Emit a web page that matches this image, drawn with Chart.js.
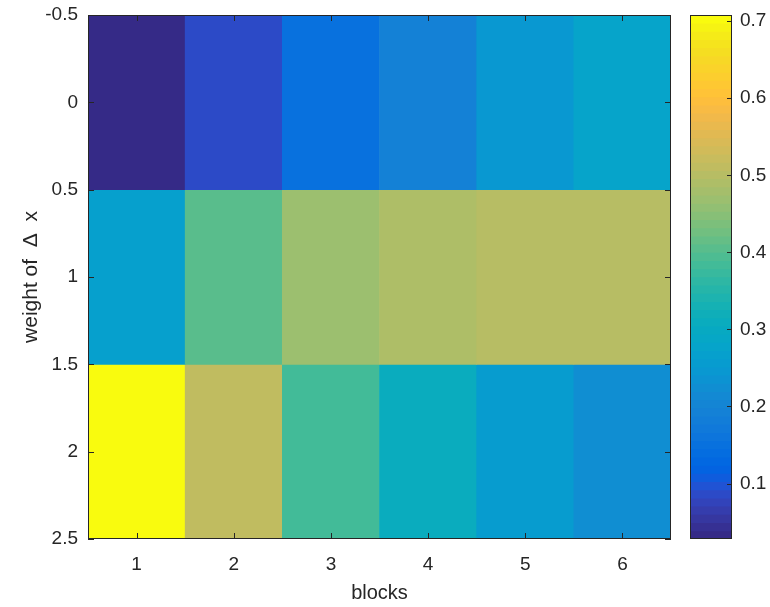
<!DOCTYPE html>
<html>
<head>
<meta charset="utf-8">
<script src="https://cdn.jsdelivr.net/npm/chart.js@4.4.0/dist/chart.umd.min.js"></script>
<style>
  html, body { margin: 0; padding: 0; background: #ffffff; }
  #wrap { position: relative; width: 770px; height: 607px; }
  #wrap canvas { position: absolute; left: 0; top: 0; }
</style>
</head>
<body>
<div id="wrap">
  <canvas id="heat" width="770" height="607"></canvas>
  <canvas id="cbar" width="770" height="607"></canvas>
</div>
<script>
// ---- data ----
const blocks = ['1', '2', '3', '4', '5', '6'];
const weights = [0, 1, 2];
const scoreW0 = [0.028, 0.087, 0.151, 0.196, 0.246, 0.278];
const scoreW1 = [0.272, 0.405, 0.468, 0.490, 0.500, 0.503];
const scoreW2 = [0.708, 0.511, 0.384, 0.310, 0.257, 0.225];
const weightTicks = [-0.5, 0, 0.5, 1, 1.5, 2, 2.5];
const colorbarTicks = [0.1, 0.2, 0.3, 0.4, 0.5, 0.6, 0.7];
const colorMin = 0.028;
const colorMax = 0.708;

// ---- parula colour map (64 entries) ----
const parula = [
  [0.2081,0.1663,0.5292],[0.2116,0.1898,0.5777],[0.2123,0.2138,0.6270],[0.2081,0.2386,0.6771],
  [0.1959,0.2645,0.7279],[0.1707,0.2919,0.7792],[0.1253,0.3242,0.8303],[0.0591,0.3598,0.8683],
  [0.0117,0.3875,0.8820],[0.0060,0.4086,0.8828],[0.0165,0.4266,0.8786],[0.0329,0.4430,0.8720],
  [0.0498,0.4586,0.8641],[0.0629,0.4737,0.8554],[0.0723,0.4887,0.8467],[0.0779,0.5040,0.8384],
  [0.0793,0.5200,0.8312],[0.0749,0.5375,0.8263],[0.0641,0.5570,0.8240],[0.0488,0.5772,0.8228],
  [0.0343,0.5966,0.8199],[0.0265,0.6137,0.8135],[0.0239,0.6287,0.8038],[0.0231,0.6418,0.7913],
  [0.0228,0.6535,0.7768],[0.0267,0.6642,0.7607],[0.0384,0.6743,0.7436],[0.0590,0.6838,0.7254],
  [0.0843,0.6928,0.7062],[0.1133,0.7015,0.6859],[0.1453,0.7098,0.6646],[0.1801,0.7177,0.6424],
  [0.2178,0.7250,0.6193],[0.2586,0.7317,0.5954],[0.3022,0.7376,0.5712],[0.3482,0.7424,0.5473],
  [0.3953,0.7459,0.5244],[0.4420,0.7481,0.5033],[0.4871,0.7491,0.4840],[0.5300,0.7491,0.4661],
  [0.5709,0.7485,0.4494],[0.6099,0.7473,0.4337],[0.6473,0.7456,0.4188],[0.6834,0.7435,0.4044],
  [0.7184,0.7411,0.3905],[0.7525,0.7384,0.3768],[0.7858,0.7356,0.3633],[0.8185,0.7327,0.3498],
  [0.8507,0.7299,0.3360],[0.8824,0.7274,0.3217],[0.9139,0.7258,0.3063],[0.9450,0.7261,0.2886],
  [0.9739,0.7314,0.2666],[0.9938,0.7455,0.2403],[0.9990,0.7653,0.2164],[0.9955,0.7861,0.1967],
  [0.9880,0.8066,0.1794],[0.9789,0.8271,0.1633],[0.9697,0.8481,0.1475],[0.9626,0.8705,0.1309],
  [0.9589,0.8949,0.1132],[0.9598,0.9218,0.0948],[0.9661,0.9514,0.0755],[0.9763,0.9831,0.0538]
];
const rgb = c => `rgb(${Math.round(c[0]*255)},${Math.round(c[1]*255)},${Math.round(c[2]*255)})`;
function colorFor(v) {
  let i = Math.floor((v - colorMin) / (colorMax - colorMin) * parula.length);
  i = Math.max(0, Math.min(parula.length - 1, i));
  return rgb(parula[i]);
}

const INK = '#262626';
const FONT = '"Liberation Sans", Arial, Helvetica, sans-serif';
const TICK_FONT = { family: FONT, size: 19 };

// ---- heat map: one floating-bar dataset per weight row ----
const rows = [scoreW0, scoreW1, scoreW2];
const heatDatasets = weights.map((w, r) => ({
  data: blocks.map(b => ({ x: b, y: [w - 0.5, w + 0.5] })),
  backgroundColor: rows[r].map(colorFor),
  borderWidth: 0,
  grouped: false,
  barPercentage: 1,
  categoryPercentage: 1
}));

// axes box with inward tick marks on all four sides
const heatFrame = {
  id: 'heatFrame',
  afterDraw(chart) {
    const { ctx, chartArea: a, scales: { x, y } } = chart;
    const len = 6;
    ctx.save();
    ctx.strokeStyle = INK;
    ctx.lineWidth = 1;
    ctx.beginPath();
    x.ticks.forEach((t, i) => {
      const px = Math.round(x.getPixelForTick(i)) + 0.5;
      ctx.moveTo(px, a.bottom); ctx.lineTo(px, a.bottom - len);
      ctx.moveTo(px, a.top); ctx.lineTo(px, a.top + len);
    });
    y.ticks.forEach(t => {
      const py = Math.round(y.getPixelForValue(t.value)) + 0.5;
      ctx.moveTo(a.left, py); ctx.lineTo(a.left + len, py);
      ctx.moveTo(a.right, py); ctx.lineTo(a.right - len, py);
    });
    ctx.stroke();
    ctx.strokeRect(Math.round(a.left) + 0.5, Math.round(a.top) + 0.5,
                   Math.round(a.right - a.left) - 1, Math.round(a.bottom - a.top) - 1);
    ctx.restore();
  }
};

new Chart(document.getElementById('heat'), {
  type: 'bar',
  data: { labels: blocks, datasets: heatDatasets },
  options: {
    responsive: false,
    animation: false,
    devicePixelRatio: 1,
    layout: { padding: { top: 15, right: 99, left: 0, bottom: 0 } },
    plugins: { legend: { display: false }, tooltip: { enabled: false } },
    scales: {
      x: {
        type: 'category',
        offset: true,
        grid: { display: false, drawTicks: false },
        border: { display: false },
        ticks: { color: INK, font: TICK_FONT, padding: 14 },
        title: { display: true, text: 'blocks', color: INK,
                 font: { family: FONT, size: 20 }, padding: { top: 0, bottom: 2 } },
        afterFit(s) { s.height = 68; s.paddingLeft = 0; s.paddingRight = 0; }
      },
      y: {
        type: 'linear',
        reverse: true,
        min: -0.5,
        max: 2.5,
        grid: { display: false, drawTicks: false },
        border: { display: false },
        afterBuildTicks(s) { s.ticks = weightTicks.map(v => ({ value: v })); },
        ticks: { color: INK, font: TICK_FONT, padding: 10,
                 callback: v => String(v) },
        title: { display: true, text: 'weight of  \u0394  x', color: INK,
                 font: { family: FONT, size: 21 }, padding: { top: 19, bottom: 0 } },
        afterFit(s) { s.width = 88; s.paddingTop = 0; s.paddingBottom = 0; }
      }
    }
  },
  plugins: [heatFrame]
});

// ---- colour bar: one band per colour map entry ----
const bandStep = (colorMax - colorMin) / parula.length;
const cbarFrame = {
  id: 'cbarFrame',
  afterDraw(chart) {
    const { ctx, chartArea: a, scales: { y } } = chart;
    ctx.save();
    ctx.strokeStyle = INK;
    ctx.lineWidth = 1;
    ctx.beginPath();
    y.ticks.forEach(t => {
      const py = Math.round(y.getPixelForValue(t.value)) + 0.5;
      ctx.moveTo(a.right, py); ctx.lineTo(a.right - 5, py);
    });
    ctx.stroke();
    ctx.strokeRect(Math.round(a.left) + 0.5, Math.round(a.top) + 0.5,
                   Math.round(a.right - a.left) - 1, Math.round(a.bottom - a.top) - 1);
    ctx.restore();
  }
};

new Chart(document.getElementById('cbar'), {
  type: 'bar',
  data: {
    labels: ['scale'],
    datasets: [{
      data: parula.map((c, i) => ({ x: 'scale', y: [colorMin + i * bandStep, colorMax] })),
      backgroundColor: parula.map(rgb),
      borderWidth: 0,
      barPercentage: 1,
      categoryPercentage: 1
    }]
  },
  options: {
    responsive: false,
    animation: false,
    devicePixelRatio: 1,
    layout: { padding: { top: 15, right: 0, left: 690, bottom: 68 } },
    plugins: { legend: { display: false }, tooltip: { enabled: false } },
    scales: {
      x: { type: 'category', display: false, offset: true },
      y: {
        type: 'linear',
        position: 'right',
        min: colorMin,
        max: colorMax,
        grid: { display: false, drawTicks: false },
        border: { display: false },
        afterBuildTicks(s) { s.ticks = colorbarTicks.map(v => ({ value: v })); },
        ticks: { color: INK, font: TICK_FONT, padding: 8,
                 callback: v => v.toFixed(1) },
        afterFit(s) { s.width = 38; s.paddingTop = 0; s.paddingBottom = 0; }
      }
    }
  },
  plugins: [cbarFrame]
});
</script>
</body>
</html>
